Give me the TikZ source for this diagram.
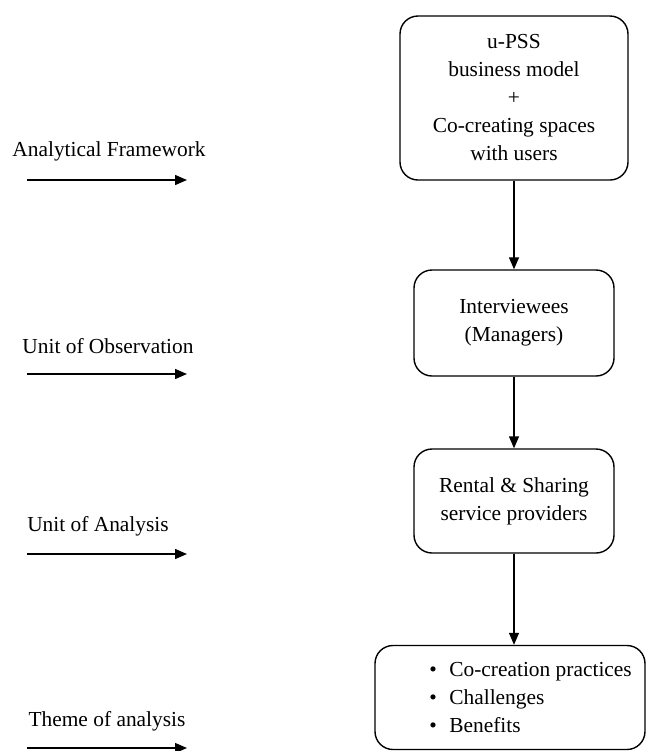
\documentclass[tikz,border=0pt]{standalone}
\usepackage{fontspec}
\setmainfont{Liberation Serif}
\usetikzlibrary{arrows.meta}
\tikzset{
  box/.style={draw, rounded corners=9pt, line width=0.7pt, align=center, font=\fontsize{10.7}{14}\selectfont},
  lbl/.style={font=\fontsize{10.7}{14}\selectfont},
  arr/.style={-{Triangle[length=6pt,width=5pt]}, line width=0.7pt},
}
\newcommand{\bul}{\makebox[10pt][l]{\textbullet}}
\begin{document}
\begin{tikzpicture}[x=0.5pt, y=-0.5pt]
\useasboundingbox (0,0) rectangle (647,751);
% right column
\node[box, minimum width=114pt, minimum height=82pt] (fw) at (514,98) {u-PSS\\business model\\+\\Co-creating spaces\\with users};
\node[box, minimum width=100pt, minimum height=53pt] (obs) at (514,323) {Interviewees\\(Managers)};
\node[box, minimum width=100pt, minimum height=52pt] (ana) at (514,501) {Rental \& Sharing\\service providers};
\node[box, minimum width=135pt, minimum height=52pt] (thm) at (510,697.5) {};
\node[lbl, anchor=west, align=left] (thmtxt) at ([xshift=24pt]thm.west) {\bul Co-creation practices\\\bul Challenges\\\bul Benefits};
\draw[arr] (fw.south) -- (obs.north);
\draw[arr] (obs.south) -- (ana.north);
\draw[arr] (ana.south) -- (ana.south |- thm.north);
% left column
\node[lbl] (lfw) at (109,151) {Analytical Framework};
\node[lbl] (lobs) at (108,346) {Unit of Observation};
\node[lbl] (lana) at (98,526) {Unit of Analysis};
\node[lbl] (lthm) at (107,721) {Theme of analysis};
\coordinate (a1) at (27,180);  \coordinate (b1) at (187,180);
\coordinate (a2) at (27,374);  \coordinate (b2) at (187,374);
\coordinate (a3) at (27,554);  \coordinate (b3) at (187,554);
\coordinate (a4) at (27,748);  \coordinate (b4) at (187,748);
\draw[arr] (a1) -- (b1);
\draw[arr] (a2) -- (b2);
\draw[arr] (a3) -- (b3);
\draw[arr] (a4) -- (b4);
\end{tikzpicture}
\end{document}
